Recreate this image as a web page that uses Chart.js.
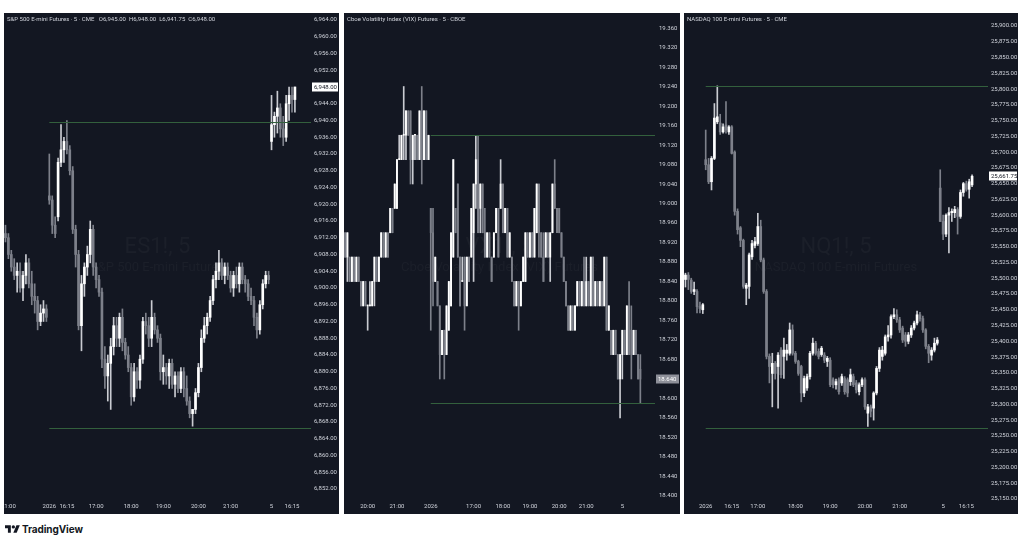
<!DOCTYPE html>
<html><head><meta charset="utf-8">
<script src="https://cdn.jsdelivr.net/npm/chart.js@4.4.1/dist/chart.umd.min.js"></script>
<style>
html,body{margin:0;padding:0;background:#fff;width:1024px;height:543px;overflow:hidden;font-family:Roboto,sans-serif}
.panel{position:absolute;top:13px;height:501px;background:#131722;overflow:hidden}
#p1{left:4px;width:335px}
#p2{left:344px;width:336px}
#p3{left:684px;width:334px}
canvas{display:block}
#logo{position:absolute;left:5px;top:525px}
#brand{position:absolute;left:22px;top:522px;font:bold 10px/14px Inter,Roboto,sans-serif;color:#131722;letter-spacing:-0.1px}
</style></head>
<body>
<div class="panel" id="p1"><canvas id="c1" width="335" height="501"></canvas></div>
<div class="panel" id="p2"><canvas id="c2" width="336" height="501"></canvas></div>
<div class="panel" id="p3"><canvas id="c3" width="334" height="501"></canvas></div>
<svg id="logo" width="15" height="8" viewBox="0 4 36 18"><path d="M14 22H7V11H0V4h14v18z" fill="#131722"/><circle cx="20" cy="8" r="4" fill="#131722"/><path d="M28 22h-8l7.5-18h8L28 22z" fill="#131722"/></svg>
<div id="brand">TradingView</div>
<script>
// ---------- ES (S&P 500 E-mini) ----------
const esOpen = [6913,6912,6908,6905,6903,6904,6900,6903,6906,6901,6898,6897,6892,6894,6895,
 6922,6921,6915,6917,6930,6933,6935,6933,6928,6914,6908,6891,6901,6905,6908,6914,6905,6902,6899,6883,
 6879,6882,6886,6891,6888,6893,6887,6884,6881,6874,6880,6878,6883,6892,6891,6888,6893,6890,6888,6880,
 6881,6879,6882,6877,6879,6876,6880,6876,6873,6870,6871,6875,6881,6888,6891,6893,6897,6902,6904,6906,
 6903,6905,6903,6900,6903,6901,6905,6902,6901,6898,6897,6893,6890,6896,6901,6903,
 6935,6939,6941,6943,6938,6936,6944,6946,6945];
const esHigh = [6915,6913,6909,6907,6906,6906,6904,6908,6907,6904,6901,6898,6896,6897,6896,
 6932,6922,6917,6931,6939,6936,6940,6934,6929,6915,6909,6903,6906,6910,6916,6915,6906,6903,6900,6886,
 6884,6888,6893,6893,6894,6895,6888,6886,6882,6882,6881,6884,6893,6894,6893,6897,6894,6891,6889,6884,
 6882,6883,6883,6880,6880,6881,6881,6879,6874,6871,6876,6882,6890,6893,6894,6898,6903,6906,6909,6907,
 6906,6906,6904,6904,6905,6906,6906,6903,6902,6900,6898,6894,6897,6902,6904,6904,
 6946,6942,6947,6944,6941,6946,6948,6948,6948];
const esLow = [6911,6907,6904,6902,6899,6899,6897,6901,6900,6896,6894,6890,6891,6892,6892,
 6920,6913,6912,6916,6929,6930,6932,6927,6913,6905,6890,6885,6898,6903,6906,6903,6900,6898,6881,6876,
 6873,6871,6884,6886,6886,6885,6883,6880,6872,6873,6876,6876,6882,6889,6886,6886,6889,6887,6878,6877,
 6877,6876,6876,6874,6875,6875,6874,6872,6869,6867,6870,6874,6880,6887,6889,6892,6896,6900,6902,6902,
 6901,6902,6899,6898,6900,6899,6901,6899,6897,6896,6891,6888,6889,6895,6900,6901,
 6933,6936,6937,6936,6934,6935,6940,6942,6942];
const esClose = [6912,6908,6905,6903,6904,6900,6903,6906,6901,6898,6897,6892,6894,6895,6893,
 6921,6915,6913,6930,6933,6935,6933,6928,6914,6908,6891,6901,6905,6908,6914,6905,6902,6899,6883,6879,
 6882,6886,6891,6888,6893,6887,6884,6881,6874,6880,6878,6883,6892,6891,6888,6893,6890,6888,6880,6881,
 6879,6882,6877,6879,6876,6880,6876,6873,6870,6871,6875,6881,6888,6891,6893,6897,6902,6904,6906,6903,
 6905,6903,6900,6903,6901,6905,6902,6901,6898,6897,6893,6890,6896,6901,6903,6902,
 6939,6941,6943,6938,6936,6944,6946,6945,6948];
const esTickIndex = [1,15,21,31,43,54,66,77,91,98];
const esTickText = ['21:00','2026','16:15','17:00','18:00','19:00','20:00','21:00','5','16:15'];
const esLevels = [6939.6, 6866.6];
const esLevelStart = [15, 15];

// ---------- VX (Cboe Volatility Index Futures) ----------
const vxOpen = [18.94,18.89,18.89,18.84,18.89,18.84,18.89,18.84,18.79,18.84,18.79,18.79,18.79,18.84,18.89,18.84,18.89,18.94,18.89,18.94,
 18.94,18.99,18.99,18.99,19.09,19.09,19.14,19.14,19.19,19.19,19.09,19.14,19.14,19.09,19.19,19.09,19.19,19.09,
 18.99,18.94,18.84,18.84,18.79,18.69,18.74,18.69,18.74,18.79,
 18.89,18.99,19.04,18.89,18.84,18.89,18.79,18.89,18.89,18.94,
 19.04,19.09,18.99,19.04,18.94,18.89,18.94,18.89,18.89,18.94,
 18.99,18.99,19.04,18.94,18.99,18.89,18.89,18.84,18.79,
 18.84,18.79,18.84,18.84,18.94,18.89,18.94,
 18.89,18.94,19.04,18.94,18.89,18.89,18.94,
 18.89,18.94,19.04,18.99,18.99,18.94,18.89,18.84,18.79,18.74,18.79,
 18.74,18.79,18.84,
 18.79,18.84,18.79,
 18.84,18.79,18.89,18.79,
 18.84,18.79,
 18.84,18.79,18.89,18.74,18.74,18.69,18.74,18.69,18.64,18.69,18.74,18.69,18.79,18.74,18.69,18.74,18.69,18.66];
const vxHigh = [18.94,18.94,18.89,18.89,18.89,18.89,18.89,18.84,18.84,18.84,18.79,18.84,18.84,18.89,18.89,18.89,18.94,18.94,18.94,18.94,
 18.99,18.99,19.04,19.09,19.14,19.14,19.24,19.19,19.19,19.19,19.14,19.14,19.14,19.19,19.24,19.19,19.19,19.14,
 18.99,18.99,18.89,18.84,18.79,18.74,18.74,18.79,18.84,18.94,
 19.09,18.99,19.04,18.89,18.89,18.89,18.89,18.89,18.99,19.04,
 19.14,19.14,19.04,19.04,18.99,18.94,18.94,18.89,18.94,18.99,
 18.99,19.09,19.04,18.99,18.99,18.94,18.89,18.84,18.84,
 18.84,18.84,18.89,18.94,18.94,18.94,18.94,
 18.99,19.04,19.04,18.94,18.94,18.94,18.94,
 18.94,19.04,19.09,18.99,18.99,18.94,18.89,18.84,18.79,18.79,18.79,
 18.79,18.84,18.84,
 18.84,18.89,18.89,
 18.84,18.89,18.89,18.84,
 18.84,18.84,
 18.84,18.89,18.89,18.79,18.74,18.74,18.74,18.69,18.69,18.74,18.74,18.79,18.84,18.79,18.74,18.74,18.69,18.69];
const vxLow = [18.89,18.84,18.84,18.84,18.84,18.84,18.84,18.79,18.79,18.79,18.74,18.79,18.79,18.79,18.84,18.84,18.89,18.89,18.89,18.89,
 18.94,18.94,18.99,18.99,19.09,19.09,19.09,19.09,19.14,19.04,19.04,19.09,19.09,19.09,19.04,19.09,19.09,19.09,
 18.74,18.79,18.84,18.79,18.64,18.69,18.64,18.69,18.74,18.79,
 18.89,18.94,18.89,18.79,18.84,18.74,18.79,18.84,18.89,18.84,
 18.99,18.94,18.94,18.94,18.89,18.89,18.89,18.84,18.89,18.94,
 18.89,18.99,18.94,18.94,18.89,18.89,18.84,18.79,18.79,
 18.74,18.79,18.84,18.84,18.89,18.89,18.89,
 18.89,18.94,18.89,18.89,18.84,18.89,18.89,
 18.84,18.94,18.99,18.94,18.94,18.89,18.84,18.79,18.74,18.74,18.74,
 18.74,18.79,18.79,
 18.79,18.79,18.79,
 18.79,18.79,18.79,18.79,
 18.79,18.79,
 18.79,18.79,18.74,18.74,18.69,18.69,18.69,18.64,18.56,18.64,18.69,18.69,18.69,18.64,18.69,18.69,18.64,18.59];
const vxClose = [18.89,18.94,18.84,18.89,18.84,18.89,18.84,18.79,18.84,18.79,18.79,18.79,18.84,18.89,18.84,18.89,18.94,18.89,18.94,18.89,
 18.99,18.94,19.04,19.09,19.09,19.14,19.14,19.19,19.14,19.09,19.14,19.14,19.09,19.19,19.09,19.19,19.09,19.14,
 18.94,18.84,18.89,18.79,18.69,18.74,18.69,18.79,18.84,18.94,
 19.09,18.94,18.89,18.79,18.84,18.79,18.89,18.84,18.99,19.04,
 19.09,18.94,19.04,18.94,18.89,18.94,18.89,18.84,18.94,18.99,
 18.89,19.04,18.94,18.99,18.89,18.94,18.84,18.79,18.84,
 18.79,18.84,18.89,18.94,18.89,18.94,18.89,
 18.99,19.04,18.94,18.89,18.84,18.94,18.89,
 18.94,19.04,18.99,18.94,18.94,18.89,18.84,18.79,18.74,18.79,18.74,
 18.79,18.84,18.79,
 18.84,18.79,18.84,
 18.79,18.89,18.79,18.84,
 18.79,18.84,
 18.79,18.89,18.74,18.79,18.69,18.74,18.69,18.64,18.69,18.74,18.69,18.79,18.69,18.69,18.74,18.69,18.64,18.64];
const vxTickIndex = [10,23,38,57,70,82,95,107,123];
const vxTickText = ['20:00','21:00','2026','17:00','18:00','19:00','20:00','21:00','5'];
const vxLevels = [19.14, 18.5915];
const vxLevelStart = [38, 38];

// ---------- NQ (NASDAQ 100 E-mini) ----------
const nqOpen = [25498,25505,25497,25479,25479,25455,25450,
 25688,25680,25653,25690,25748,25746,25732,25743,25732,25740,25700,25606,25580,25560,25484,25487,25534,25552,25555,25582,
 25529,25479,25376,25349,25365,25360,25386,25376,25381,25381,25418,25381,25368,25360,25318,25326,25344,25381,25397,25384,
 25379,25378,25368,25370,25339,25331,25339,25334,25341,25339,25336,25344,25334,25320,25331,25339,25286,25296,25294,25318,
 25357,25376,25381,25407,25410,25439,25442,25434,25421,25410,25400,25410,25421,25429,25442,25436,25418,25392,25378,25386,25397,
 25643,25590,25570,25600,25604,25604,25609,25598,25636,25650,25641,25648];
const nqHigh = [25508,25509,25500,25494,25482,25462,25460,
 25735,25690,25693,25777,25805,25760,25745,25780,25742,25742,25702,25610,25582,25562,25492,25540,25560,25565,25603,25592,
 25532,25482,25380,25381,25368,25382,25390,25405,25395,25429,25426,25384,25370,25362,25345,25348,25384,25405,25400,25388,
 25392,25382,25376,25374,25342,25340,25342,25348,25344,25342,25356,25348,25338,25334,25342,25342,25300,25299,25320,25360,
 25390,25392,25410,25425,25442,25452,25450,25438,25424,25414,25414,25425,25432,25448,25446,25440,25420,25395,25390,25405,25406,
 25672,25600,25602,25612,25610,25614,25612,25640,25652,25654,25657,25664];
const nqLow = [25486,25482,25476,25474,25445,25445,25444,
 25672,25650,25640,25688,25745,25728,25730,25730,25728,25697,25600,25570,25550,25484,25458,25468,25530,25548,25552,25526,
 25476,25372,25334,25296,25340,25294,25342,25341,25370,25378,25378,25365,25346,25304,25312,25322,25340,25378,25378,25372,
 25376,25366,25360,25328,25326,25324,25316,25330,25316,25312,25330,25328,25318,25315,25328,25292,25265,25280,25275,25315,
 25352,25370,25378,25400,25405,25436,25430,25414,25398,25392,25396,25406,25418,25426,25432,25414,25388,25366,25370,25383,25394,
 25590,25561,25566,25540,25590,25596,25570,25595,25630,25638,25627,25645];
const nqClose = [25505,25498,25479,25482,25455,25452,25458,
 25680,25653,25690,25754,25756,25732,25740,25735,25740,25698,25606,25577,25560,25487,25489,25537,25555,25558,25582,25529,
 25479,25376,25360,25365,25349,25378,25347,25386,25386,25418,25381,25368,25349,25318,25341,25344,25381,25397,25381,25376,
 25389,25370,25373,25331,25331,25336,25320,25344,25320,25318,25347,25331,25323,25331,25339,25296,25296,25289,25318,25357,
 25386,25386,25407,25410,25439,25442,25434,25418,25402,25400,25410,25421,25429,25442,25436,25418,25392,25381,25386,25397,25402,
 25590,25570,25600,25604,25606,25609,25598,25636,25650,25641,25653,25661.75];
const nqTickIndex = [7,16,25,38,50,62,74,89,97];
const nqTickText = ['2026','16:15','17:00','18:00','19:00','20:00','21:00','5','16:15'];
const nqLevels = [25805, 25263];
const nqLevelStart = [7, 7];

// ---------- rendering ----------
const BG = '#131722', TXT = '#d1d4dc', UP = '#ffffff', DOWN = '#7d808a', UPW = '#c9cbd1', LVL = '#33603d';
const FONT = 'Roboto, "Liberation Sans", sans-serif';

function fmtNum(v, dec) {
  return Number(v).toLocaleString('en-US', { minimumFractionDigits: dec, maximumFractionDigits: dec });
}

const decor = {
  id: 'decor',
  beforeDatasetsDraw(chart) {
    const d = chart.$decor, a = chart.chartArea, ctx = chart.ctx;
    ctx.save();
    ctx.fillStyle = 'rgba(255,255,255,0.035)';
    ctx.textAlign = 'center'; ctx.textBaseline = 'middle';
    const cx = (a.left + a.right) / 2;
    ctx.font = '22px ' + FONT; ctx.fillText(d.wmMain, cx, a.top + 234);
    ctx.font = '13px ' + FONT; ctx.fillText(d.wmSub, cx, a.top + 255);
    ctx.restore();
  },
  afterDatasetsDraw(chart) {
    const d = chart.$decor, a = chart.chartArea, ctx = chart.ctx;
    const xs = chart.scales.x, ys = chart.scales.y;
    ctx.save();
    ctx.strokeStyle = LVL; ctx.lineWidth = 1;
    d.levels.forEach((v, k) => {
      const y = Math.round(ys.getPixelForValue(v)) + 0.5;
      ctx.beginPath(); ctx.moveTo(xs.getPixelForValue(d.levelStart[k]), y); ctx.lineTo(a.right, y); ctx.stroke();
    });
    ctx.restore();
  },
  afterDraw(chart) {
    const d = chart.$decor, a = chart.chartArea, ctx = chart.ctx, ys = chart.scales.y;
    ctx.save();
    ctx.font = '6px ' + FONT; ctx.fillStyle = TXT; ctx.textAlign = 'left'; ctx.textBaseline = 'middle';
    ctx.fillText(d.title, 3, 6.5);
    const y = Math.round(ys.getPixelForValue(d.last));
    ctx.fillStyle = d.lastUp ? '#ffffff' : '#8e9099';
    ctx.fillRect(a.right + 1, y - 4.5, chart.width - a.right - 2, 9);
    ctx.fillStyle = d.lastUp ? BG : '#ffffff';
    ctx.fillText(fmtNum(d.last, d.dec), a.right + 3, y + 0.5);
    ctx.restore();
  }
};

function buildPanel(id, s) {
  const labels = new Array(s.slots).fill('');
  s.tickIndex.forEach((ix, k) => { labels[ix] = s.tickText[k]; });
  const up = s.close.map((c, i) => c >= s.open[i]);
  const fill = a => a.concat(new Array(s.slots - a.length).fill(null));
  const wick = fill(s.low.map((l, i) => [l, s.high[i]]));
  const body = fill(s.open.map((o, i) => [o, s.close[i]]));
  const last = s.close[s.close.length - 1];
  const canvas = document.getElementById(id);
  new Chart(canvas, {
    type: 'bar',
    data: {
      labels,
      datasets: [
        { data: wick, grouped: false, order: 2, barThickness: 1, borderWidth: 0,
          backgroundColor: fill(up.map(u => u ? UPW : DOWN)) },
        { data: body, grouped: false, order: 1, barThickness: s.bodyW, borderWidth: 0, minBarLength: 1,
          backgroundColor: fill(up.map(u => u ? UP : DOWN)) }
      ]
    },
    options: {
      responsive: false, animation: false, devicePixelRatio: 1,
      layout: { padding: 0 },
      plugins: { legend: { display: false }, tooltip: { enabled: false } },
      scales: {
        x: {
          offset: true,
          grid: { display: false, drawTicks: false }, border: { display: false },
          ticks: { autoSkip: false, maxRotation: 0, minRotation: 0, padding: 4, color: TXT,
                   font: { family: FONT, size: 6 } },
          afterFit(sc) { sc.height = 15; sc.paddingLeft = 0; sc.paddingRight = 0; }
        },
        y: {
          position: 'right', min: s.min, max: s.max,
          grid: { display: false, drawTicks: false }, border: { display: false },
          ticks: { stepSize: s.step, includeBounds: false, padding: s.pad, color: TXT,
                   font: { family: FONT, size: 6 }, callback: v => fmtNum(v, s.dec) },
          afterFit(sc) { sc.width = s.axisW; sc.paddingTop = 0; sc.paddingBottom = 0; }
        }
      }
    },
    plugins: [{
      id: 'attach',
      beforeInit(c) {
        c.$decor = { title: s.title, wmMain: s.wmMain, wmSub: s.wmSub, levels: s.levels,
                     levelStart: s.levelStart, last, lastUp: up[up.length - 1], dec: s.dec };
      }
    }, decor]
  });
}

buildPanel('c1', { open: esOpen, high: esHigh, low: esLow, close: esClose, slots: 105,
  tickIndex: esTickIndex, tickText: esTickText, levels: esLevels, levelStart: esLevelStart,
  min: 6849.61, max: 6965.67, step: 4, dec: 2, axisW: 28, pad: 3, bodyW: 2,
  title: 'S&P 500 E-mini Futures \u00b7 5 \u00b7 CME   O6,945.00  H6,948.00  L6,941.75  C6,948.00',
  wmMain: 'ES1!, 5', wmSub: 'S&P 500 E-mini Futures' });

buildPanel('c2', { open: vxOpen, high: vxHigh, low: vxLow, close: vxClose, slots: 138,
  tickIndex: vxTickIndex, tickText: vxTickText, levels: vxLevels, levelStart: vxLevelStart,
  min: 18.3938, max: 19.3908, step: 0.04, dec: 3, axisW: 25, pad: 4, bodyW: 1.2,
  title: 'Cboe Volatility Index (VIX) Futures \u00b7 5 \u00b7 CBOE',
  wmMain: 'VX1!, 5', wmSub: 'Cboe Volatility Index (VIX) Futures' });

buildPanel('c3', { open: nqOpen, high: nqHigh, low: nqLow, close: nqClose, slots: 105,
  tickIndex: nqTickIndex, tickText: nqTickText, levels: nqLevels, levelStart: nqLevelStart,
  min: 25149.9, max: 25920.6, step: 25, dec: 2, axisW: 30, pad: 3, bodyW: 2,
  title: 'NASDAQ 100 E-mini Futures \u00b7 5 \u00b7 CME',
  wmMain: 'NQ1!, 5', wmSub: 'NASDAQ 100 E-mini Futures' });
</script>
</body></html>
